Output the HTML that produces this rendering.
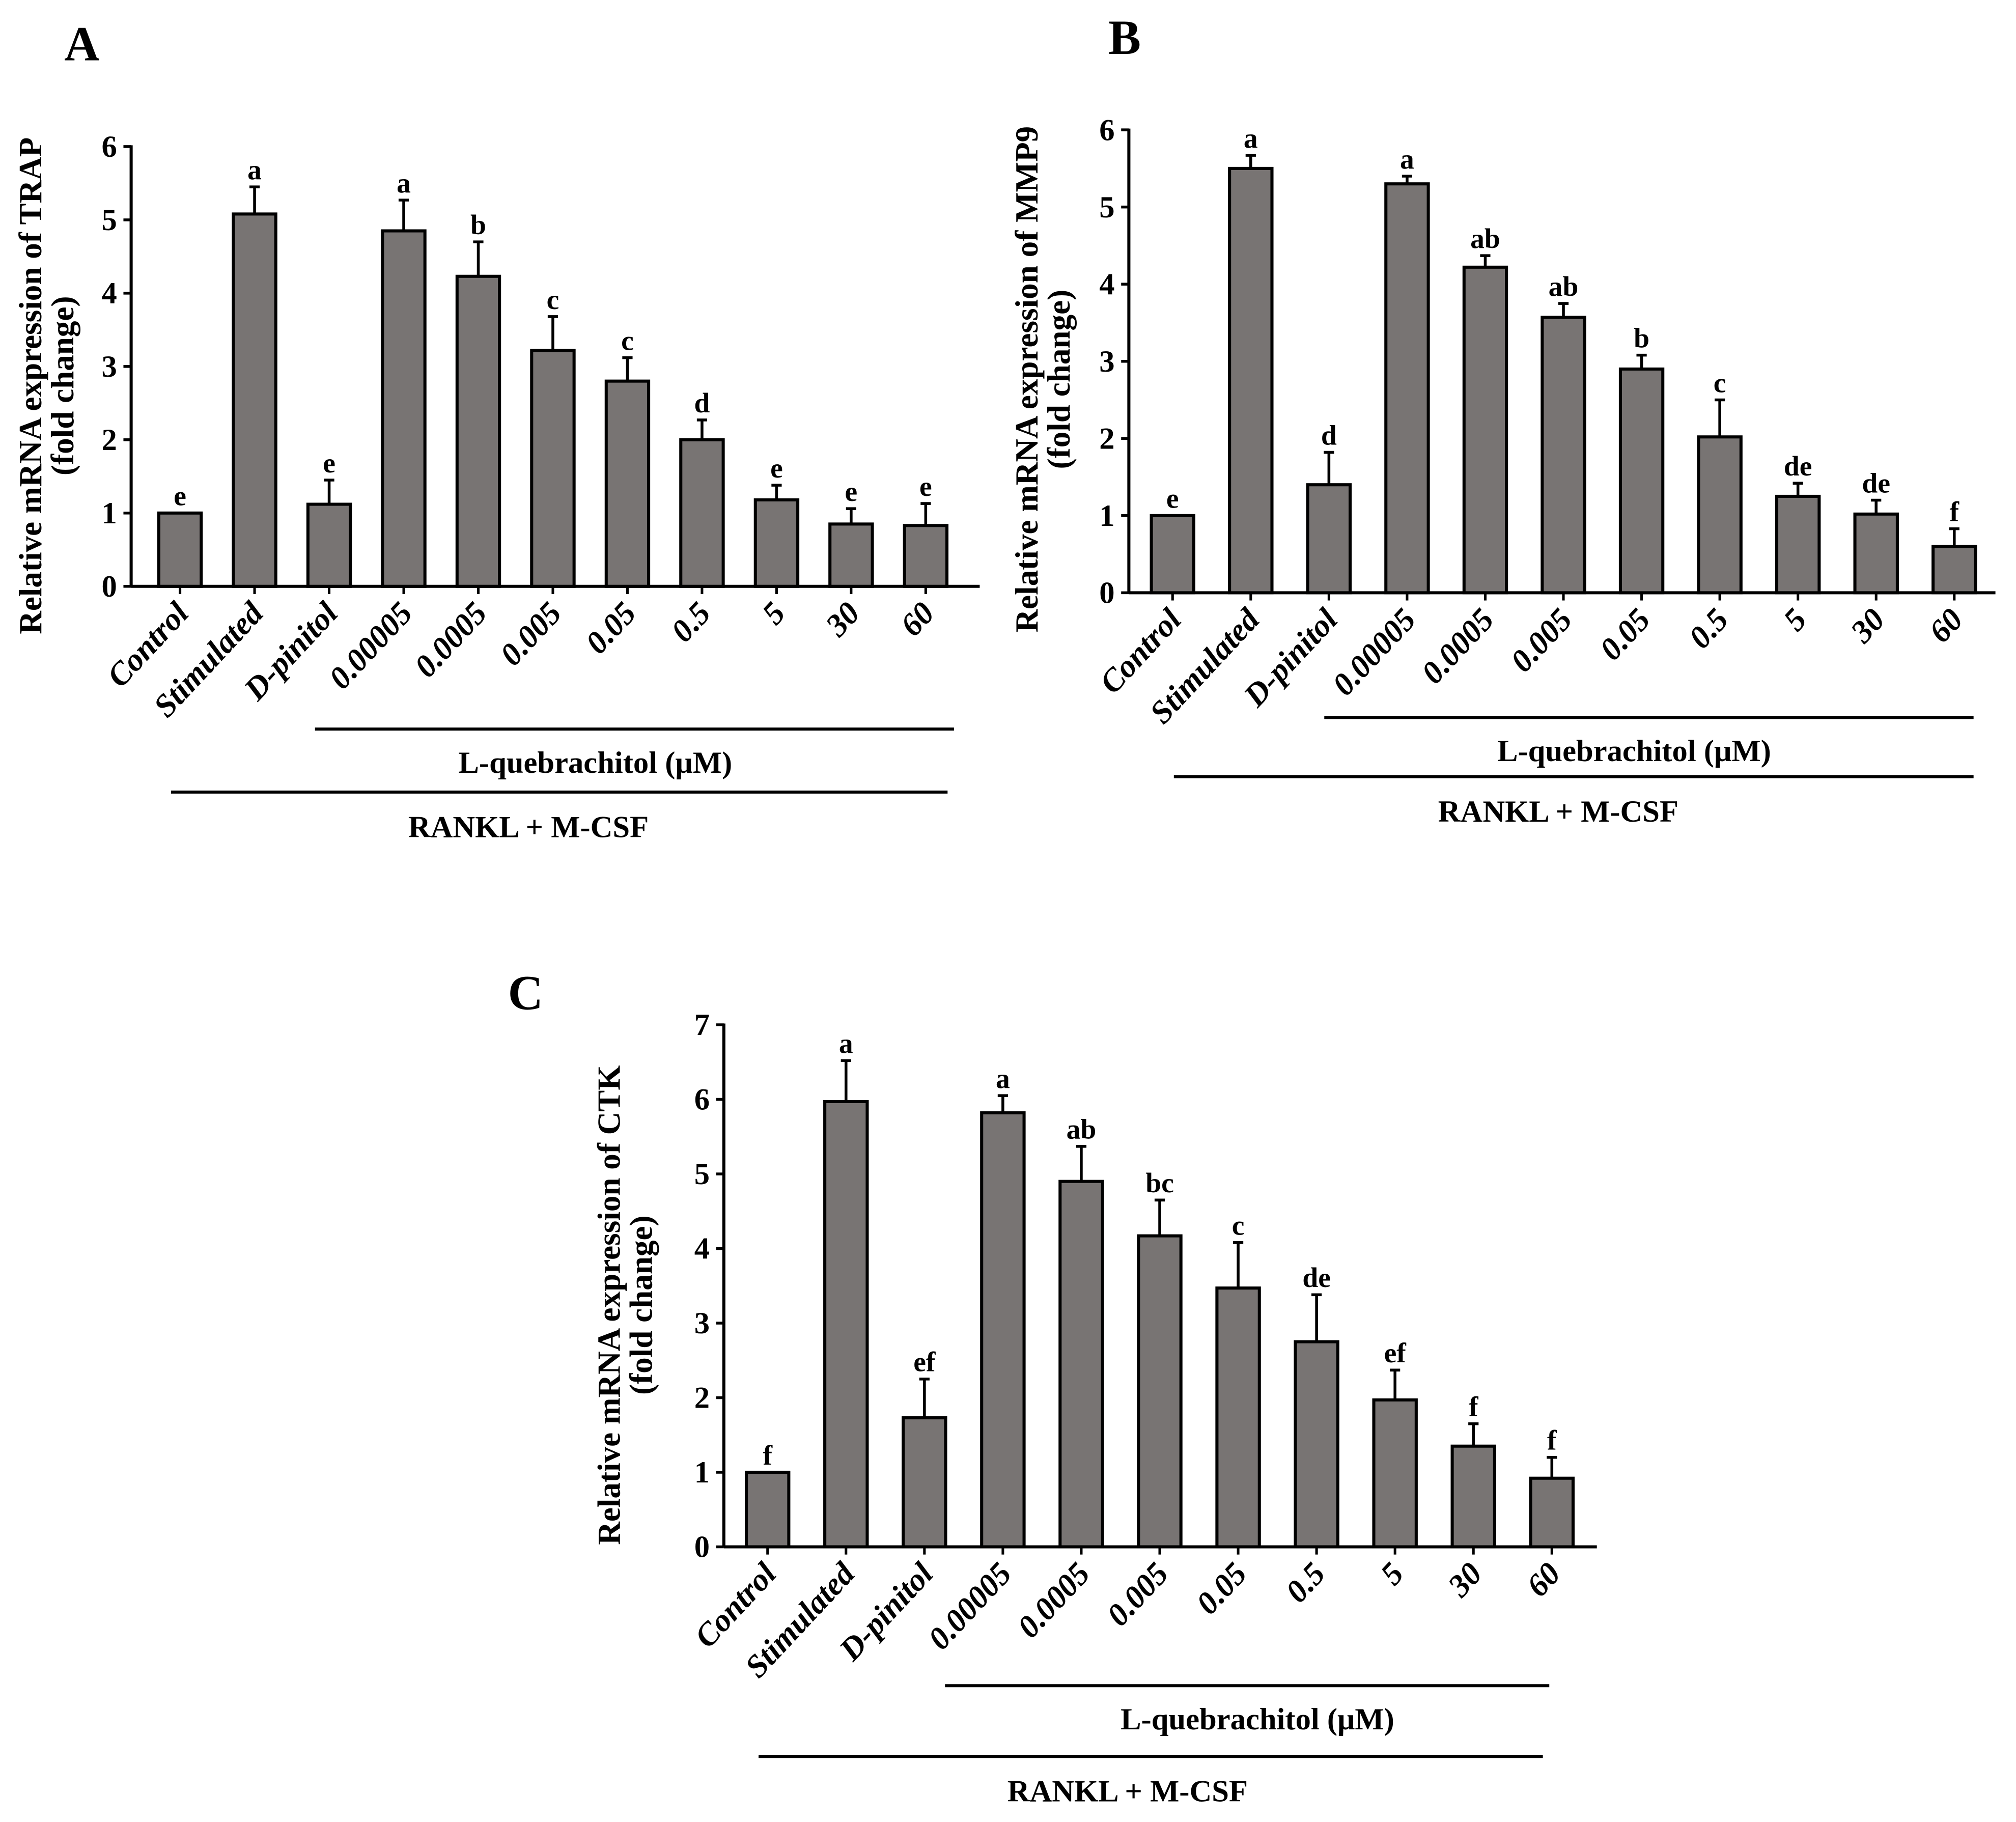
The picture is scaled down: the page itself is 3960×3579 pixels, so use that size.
<!DOCTYPE html>
<html><head><meta charset="utf-8"><style>
html,body{margin:0;padding:0;background:#fff}
svg{display:block}
text{font-family:"Liberation Serif",serif;font-weight:bold;fill:#000}
</style></head><body>
<svg id="fig" xmlns="http://www.w3.org/2000/svg" width="3960" height="3579" viewBox="0 0 1568 1417" preserveAspectRatio="none"></svg>
<script>
const categories = ["Control","Stimulated","D-pinitol","0.00005","0.0005","0.005","0.05","0.5","5","30","60"];
const trapValues = [1,5.08,1.12,4.85,4.23,3.22,2.8,2.0,1.18,0.85,0.83];
const trapErrors = [0,0.37,0.33,0.42,0.47,0.46,0.32,0.27,0.2,0.21,0.3];
const trapLetters = ["e","a","e","a","b","c","c","d","e","e","e"];
const mmpValues = [1,5.5,1.4,5.3,4.22,3.57,2.9,2.02,1.25,1.02,0.6];
const mmpErrors = [0,0.17,0.42,0.1,0.15,0.18,0.18,0.48,0.17,0.18,0.23];
const mmpLetters = ["e","a","d","a","ab","ab","b","c","de","de","f"];
const ctkValues = [1,5.97,1.73,5.82,4.9,4.17,3.47,2.75,1.97,1.35,0.92];
const ctkErrors = [0,0.55,0.52,0.23,0.47,0.48,0.61,0.63,0.4,0.3,0.28];
const ctkLetters = ["f","a","ef","a","ab","bc","c","de","ef","f","f"];
const trapTicks = [0,1,2,3,4,5,6];
const mmpTicks = [0,1,2,3,4,5,6];
const ctkTicks = [0,1,2,3,4,5,6,7];

const NS="http://www.w3.org/2000/svg";
const svg=document.getElementById('fig');
function mk(tag,attrs,parent,txt){const e=document.createElementNS(NS,tag);for(const k in attrs)e.setAttribute(k,attrs[k]);if(txt!==undefined)e.textContent=txt;(parent||svg).appendChild(e);return e;}

function panel(p){
  const g=mk('g',{});
  
  
  const ymax=p.ticks[p.ticks.length-1];
  const y=v=>p.y0-(p.y0-p.ytop)*v/ymax;
  const x=i=>p.x0+p.step*i;
  const bw=33;
  const L=mk('text',{x:p.lx,y:p.ly,'font-size':38},g,p.letter);
  
  
  const ax=mk('line',{x1:p.ax,y1:p.ytop-1,x2:p.ax,y2:p.y0,stroke:'#000','stroke-width':2.4},g);
  
  
  p.ticks.forEach(t=>{
    mk('line',{x1:p.ax-6,y1:y(t),x2:p.ax,y2:y(t),stroke:'#000','stroke-width':2.2},g);
    const tl=mk('text',{x:p.ax-11,y:y(t)+8,'font-size':24,'text-anchor':'end'},g,String(t));
    
    
  });
  const xa=mk('line',{x1:p.ax,y1:p.y0,x2:p.xend,y2:p.y0,stroke:'#000','stroke-width':2.4},g);
  
  
  const yt=mk('text',{transform:`translate(${p.tx},${p.ty}) rotate(-90)`,'font-size':25,'text-anchor':'middle'},g);
  
  
  mk('tspan',{x:0,dy:0},yt,p.title);
  mk('tspan',{x:0,dy:25},yt,'(fold change)');
  categories.forEach((c,i)=>{
    const cx=x(i),v=p.values[i],e=p.errors[i];
    mk('line',{x1:cx,y1:p.y0,x2:cx,y2:p.y0+6,stroke:'#000','stroke-width':2},g);
    if(e>0){
      const eb=mk('path',{d:`M${cx},${y(v)} V${y(v+e)} M${cx-4},${y(v+e)} H${cx+4}`,stroke:'#000','stroke-width':2.2,fill:'none'},g);
      
      
    }
    const r=mk('rect',{x:cx-bw/2,y:y(v),width:bw,height:p.y0-y(v),fill:'#787473',stroke:'#000','stroke-width':2.4},g);
    
    
    const lt=mk('text',{x:cx,y:y(v+e)-6,'font-size':22,'text-anchor':'middle'},g,p.letters[i]);
    
    
    const cl=mk('text',{transform:`translate(${cx+8},${p.y0+22}) rotate(-47)`,'font-size':25,'font-style':'italic','text-anchor':'end'},g,c);
    
    
  });
  const b1=mk('line',{x1:p.l1[0],y1:p.l1[2],x2:p.l1[1],y2:p.l1[2],stroke:'#000','stroke-width':2.4},g);
  
  
  const t1=mk('text',{x:p.c1,y:p.l1[2]+34,'font-size':24,'text-anchor':'middle'},g,'L-quebrachitol (μM)');
  
  
  const b2=mk('line',{x1:p.l2[0],y1:p.l2[2],x2:p.l2[1],y2:p.l2[2],stroke:'#000','stroke-width':2.4},g);
  
  
  const t2=mk('text',{x:p.c2,y:p.l2[2]+35,'font-size':24,'text-anchor':'middle'},g,'RANKL + M-CSF');
  
  
}

panel({name:'panel-a-trap',letter:'A',lx:50,ly:47,ax:102,y0:456,ytop:114,xend:762,x0:140,step:58,ticks:trapTicks,values:trapValues,errors:trapErrors,letters:trapLetters,title:'Relative mRNA expression of TRAP',tx:32,ty:300,l1:[245,742,567],l2:[133,737,616],c1:463,c2:411});
panel({name:'panel-b-mmp9',letter:'B',lx:862,ly:42,ax:878,y0:461,ytop:101,xend:1552,x0:912,step:60.8,ticks:mmpTicks,values:mmpValues,errors:mmpErrors,letters:mmpLetters,title:'Relative mRNA expression of MMP9',tx:807,ty:295,l1:[1030,1535,558],l2:[913,1535,604],c1:1271,c2:1212});
panel({name:'panel-c-ctk',letter:'C',lx:395,ly:785,ax:563,y0:1203,ytop:797,xend:1242,x0:597,step:61,ticks:ctkTicks,values:ctkValues,errors:ctkErrors,letters:ctkLetters,title:'Relative mRNA expression of CTK',tx:482,ty:1015,l1:[735,1205,1311],l2:[590,1200,1366],c1:978,c2:877});
</script>
</body></html>
